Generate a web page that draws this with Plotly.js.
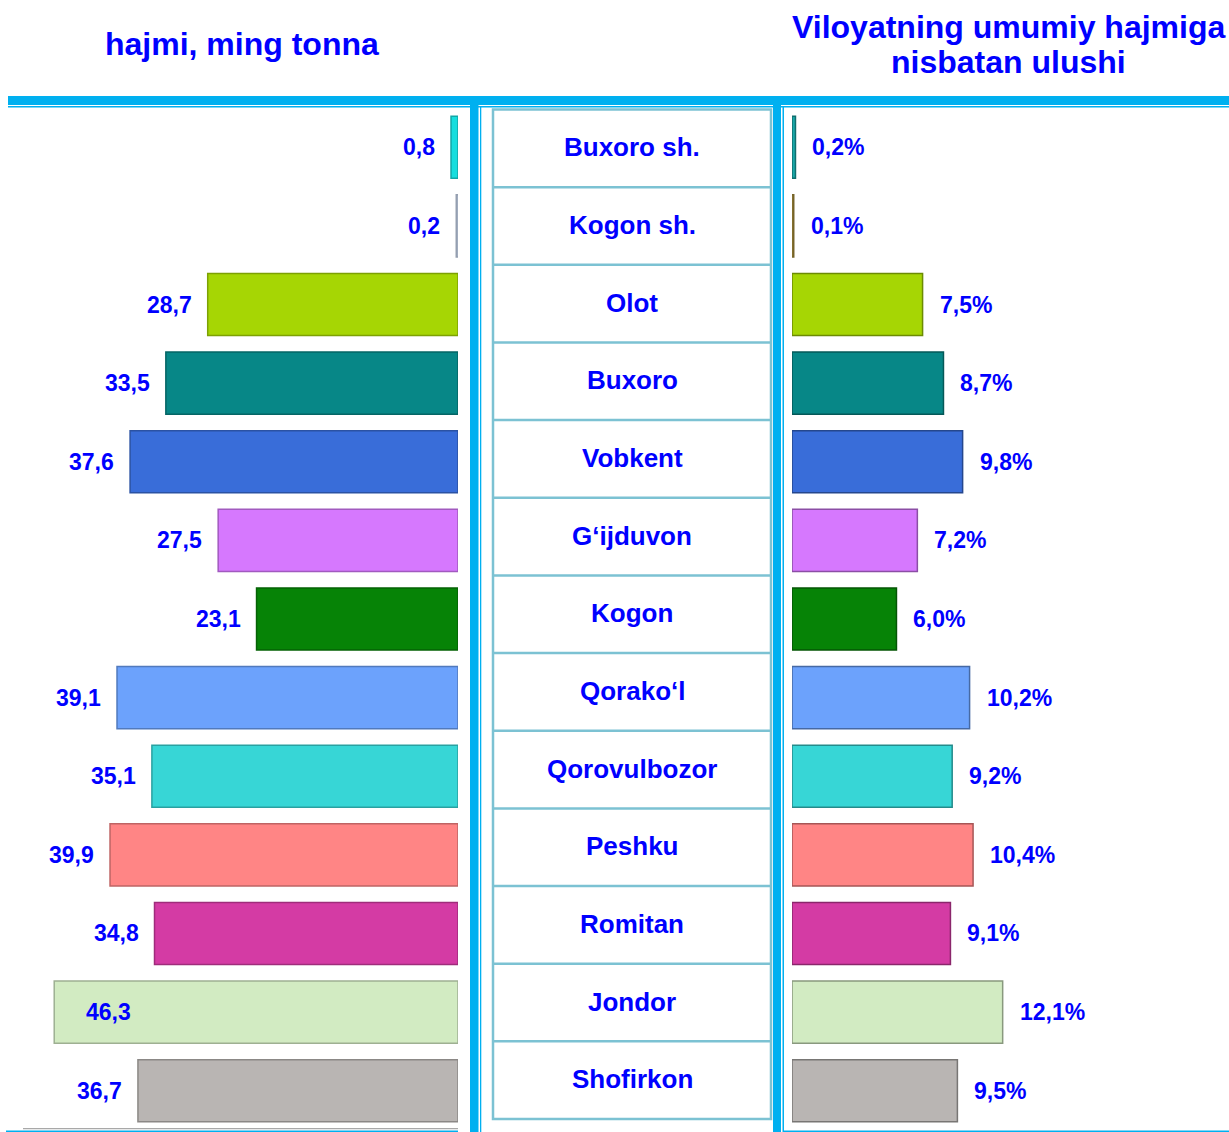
<!DOCTYPE html>
<html>
<head>
<meta charset="utf-8">
<script src="https://cdn.plot.ly/plotly-3.0.1.min.js"></script>
<style>
  body { margin: 0; background: #fff; }
  #plot { width: 1229px; height: 1132px; }
</style>
</head>
<body>
<div id="plot"></div>
<script>
// districts of Buxoro viloyati, top to bottom
const districts = ['Buxoro sh.', 'Kogon sh.', 'Olot', 'Buxoro', 'Vobkent', 'G‘ijduvon', 'Kogon',
    'Qorako‘l', 'Qorovulbozor', 'Peshku', 'Romitan', 'Jondor', 'Shofirkon'];
const volume = [0.8, 0.2, 28.7, 33.5, 37.6, 27.5, 23.1, 39.1, 35.1, 39.9, 34.8, 46.3, 36.7];   // ming tonna
const share = [0.2, 0.1, 7.5, 8.7, 9.8, 7.2, 6.0, 10.2, 9.2, 10.4, 9.1, 12.1, 9.5];            // %
const leftColors = ['#16dede', '#c6d4ea', '#a6d604', '#078787', '#396dd9', '#d678fe', '#068306',
    '#6ca2fc', '#37d6d6', '#ff8585', '#d43ba4', '#d2ebc2', '#b9b5b3'];
const rightColors = ['#19a9a9', '#b59a40', '#a6d604', '#078787', '#396dd9', '#d678fe', '#068306',
    '#6ca2fc', '#37d6d6', '#ff8585', '#d43ba4', '#d2ebc2', '#b9b5b3'];

const W = 1229, H = 1132;
const px = x => x / W;
const py = y => 1 - y / H;
const BLUE = '#00b0f0';
const CELL = '#7cc2d3';
const TXT = '#0000ff';
const FONT = 'Liberation Sans, Arial, sans-serif';
const LEFT_MAX = 51.6, RIGHT_MAX = 25.1;

// name column: evenly split box between these pixel rows
const BOX_TOP = 109.5, BOX_BOTTOM = 1119;
const rowH = (BOX_BOTTOM - BOX_TOP) / districts.length;

function darker(hex, f) {
    const n = parseInt(hex.slice(1), 16);
    const r = Math.round(((n >> 16) & 255) * f), g = Math.round(((n >> 8) & 255) * f), b = Math.round((n & 255) * f);
    return `rgb(${r},${g},${b})`;
}
const fmt = v => v.toFixed(1).replace('.', ',');

const left = {
    type: 'bar', orientation: 'h', x: volume, y: districts, xaxis: 'x', yaxis: 'y',
    marker: { color: leftColors, line: { color: leftColors.map(c => darker(c, 0.75)), width: 1.5 } },
    hoverinfo: 'x+y'
};
const right = {
    type: 'bar', orientation: 'h', x: share, y: districts, xaxis: 'x2', yaxis: 'y',
    marker: { color: rightColors, line: { color: rightColors.map(c => darker(c, 0.65)), width: 1.5 } },
    hoverinfo: 'x+y'
};

function rect(x0, y0, x1, y1, color) {
    return { type: 'rect', xref: 'paper', yref: 'paper', x0: px(x0), x1: px(x1), y0: py(y1), y1: py(y0),
        fillcolor: color, line: { width: 0 }, layer: 'above' };
}

const shapes = [
    rect(8, 96, 1229, 105, BLUE),
    rect(8, 106, 1229, 107.6, BLUE),
    rect(470, 105, 478.5, 1132, BLUE),
    rect(480, 107, 481.3, 1132, BLUE),
    rect(773, 105, 781, 1132, BLUE),
    rect(782.5, 107, 784, 1132, BLUE),
    rect(23, 1128, 458, 1129.3, '#a8a8a8'),
    rect(6, 1130.5, 458, 1132, BLUE),
    rect(783, 1130.5, 1229, 1132, BLUE),
    { type: 'rect', xref: 'paper', yref: 'paper', x0: px(493), x1: px(771), y0: py(BOX_BOTTOM), y1: py(BOX_TOP),
        line: { color: CELL, width: 2.5 } }
];
for (let i = 1; i < districts.length; i++) {
    const y = py(BOX_TOP + i * rowH);
    shapes.push({ type: 'line', xref: 'paper', yref: 'paper', x0: px(493), x1: px(771), y0: y, y1: y,
        line: { color: CELL, width: 2.5 } });
}

const labelFont = { family: FONT, size: 23, color: TXT, weight: 'bold' };
const annotations = [];

districts.forEach((d, i) => {
    // middle column names
    annotations.push({ xref: 'paper', yref: 'paper', x: px(632), y: py(BOX_TOP + (i + 0.5) * rowH), text: d,
        showarrow: false, xanchor: 'center', yanchor: 'middle', yshift: 1,
        font: { family: FONT, size: 26, color: TXT, weight: 'bold' } });
    // left values, placed inside the bar when there is no room outside
    const inside = volume[i] > 0.85 * LEFT_MAX;
    annotations.push({ xref: 'x', yref: 'y', x: volume[i], y: d, text: fmt(volume[i]), showarrow: false,
        xanchor: inside ? 'left' : 'right', xshift: inside ? 30 : -14, yanchor: 'middle',
        font: labelFont });
    // right shares
    annotations.push({ xref: 'x2', yref: 'y', x: share[i], y: d, text: fmt(share[i]) + '%', showarrow: false,
        xanchor: 'left', xshift: 15, yanchor: 'middle', font: labelFont });
});

const headFont = { family: FONT, size: 32, color: TXT, weight: 'bold' };
annotations.push(
    { xref: 'paper', yref: 'paper', x: px(242), y: py(44), text: 'hajmi, ming tonna', showarrow: false,
        xanchor: 'center', yanchor: 'middle', font: headFont },
    { xref: 'paper', yref: 'paper', x: px(1008), y: py(27), text: 'Viloyatning umumiy hajmiga', showarrow: false,
        xanchor: 'center', yanchor: 'middle', font: headFont },
    { xref: 'paper', yref: 'paper', x: px(1008), y: py(62), text: 'nisbatan ulushi', showarrow: false,
        xanchor: 'center', yanchor: 'middle', font: headFont }
);

const hidden = { showgrid: false, zeroline: false, showticklabels: false, showline: false, ticks: '', fixedrange: true };

Plotly.newPlot('plot', [left, right], {
    width: W, height: H,
    margin: { l: 0, r: 0, t: 0, b: 0 },
    paper_bgcolor: '#ffffff',
    plot_bgcolor: 'rgba(0,0,0,0)',
    showlegend: false,
    bargap: 0.21,
    xaxis: Object.assign({ domain: [px(8), px(458)], range: [LEFT_MAX, 0], anchor: 'y' }, hidden),
    xaxis2: Object.assign({ domain: [px(792), 1], range: [0, RIGHT_MAX], anchor: 'y' }, hidden),
    yaxis: Object.assign({ domain: [py(1130), py(108)], type: 'category', categoryarray: districts,
        range: [districts.length - 0.5, -0.5] }, hidden),
    shapes: shapes,
    annotations: annotations
}, { displayModeBar: false, staticPlot: true });
</script>
</body>
</html>
